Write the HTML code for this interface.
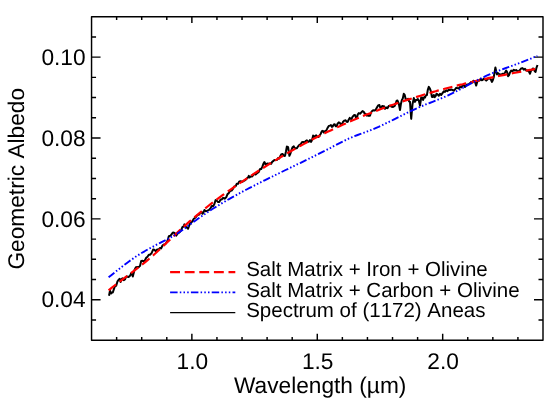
<!DOCTYPE html>
<html><head><meta charset="utf-8"><title>Spectrum</title>
<style>html,body{margin:0;padding:0;background:#fff}svg{display:block;will-change:transform;text-rendering:geometricPrecision}</style></head>
<body>
<svg width="554" height="400" viewBox="0 0 554 400">
<rect width="554" height="400" fill="#fff"/>
<g font-family="'Liberation Sans', sans-serif" fill="#000" style="font-kerning:none">
<rect x="91.55" y="16.70" width="451.45" height="323.50" fill="none" stroke="#000" stroke-width="1.45" stroke-linejoin="round"/>
<path d="M116.63 340.20v-3.20M116.63 16.70v3.20M141.71 340.20v-3.20M141.71 16.70v3.20M166.79 340.20v-3.20M166.79 16.70v3.20M191.87 340.20v-6.40M191.87 16.70v6.40M216.95 340.20v-3.20M216.95 16.70v3.20M242.03 340.20v-3.20M242.03 16.70v3.20M267.11 340.20v-3.20M267.11 16.70v3.20M292.19 340.20v-3.20M292.19 16.70v3.20M317.28 340.20v-6.40M317.28 16.70v6.40M342.36 340.20v-3.20M342.36 16.70v3.20M367.44 340.20v-3.20M367.44 16.70v3.20M392.52 340.20v-3.20M392.52 16.70v3.20M417.60 340.20v-3.20M417.60 16.70v3.20M442.68 340.20v-6.40M442.68 16.70v6.40M467.76 340.20v-3.20M467.76 16.70v3.20M492.84 340.20v-3.20M492.84 16.70v3.20M517.92 340.20v-3.20M517.92 16.70v3.20M91.55 319.98h4.50M543.00 319.98h-4.50M91.55 299.76h9.00M543.00 299.76h-9.00M91.55 279.54h4.50M543.00 279.54h-4.50M91.55 259.32h4.50M543.00 259.32h-4.50M91.55 239.11h4.50M543.00 239.11h-4.50M91.55 218.89h9.00M543.00 218.89h-9.00M91.55 198.67h4.50M543.00 198.67h-4.50M91.55 178.45h4.50M543.00 178.45h-4.50M91.55 158.23h4.50M543.00 158.23h-4.50M91.55 138.01h9.00M543.00 138.01h-9.00M91.55 117.79h4.50M543.00 117.79h-4.50M91.55 97.57h4.50M543.00 97.57h-4.50M91.55 77.36h4.50M543.00 77.36h-4.50M91.55 57.14h9.00M543.00 57.14h-9.00M91.55 36.92h4.50M543.00 36.92h-4.50" stroke="#000" stroke-width="1.45" fill="none"/>
<clipPath id="c"><rect x="91.55" y="16.70" width="451.45" height="323.50"/></clipPath>
<g clip-path="url(#c)" fill="none" stroke-linejoin="round">
<path d="M109.0 295.7 L110.0 290.7 L111.0 293.5 L111.9 292.5 L112.8 292.5 L113.8 289.4 L115.0 285.9 L116.2 285.7 L117.5 281.3 L118.8 279.5 L119.7 278.9 L120.6 282.0 L121.5 279.2 L122.5 278.3 L123.8 280.2 L125.0 279.5 L126.0 277.0 L126.9 276.4 L128.4 277.1 L130.0 275.8 L131.1 273.3 L132.2 274.6 L132.8 276.5 L134.4 270.2 L135.9 267.2 L137.5 267.1 L138.8 267.1 L140.0 265.9 L141.2 260.9 L142.5 260.7 L143.8 261.6 L145.0 260.3 L146.2 257.8 L147.5 256.7 L148.8 254.8 L150.0 254.8 L151.6 253.1 L153.1 249.6 L154.3 249.8 L155.6 251.1 L157.2 249.4 L158.8 249.3 L160.0 247.9 L161.2 248.4 L162.5 245.5 L163.8 244.4 L165.3 244.3 L166.9 241.9 L167.8 240.0 L168.8 236.2 L170.3 235.8 L171.9 233.8 L173.1 232.5 L174.7 232.9 L176.2 235.6 L177.8 233.5 L179.4 232.5 L180.9 230.6 L182.5 226.9 L183.4 226.7 L184.4 224.4 L185.7 226.9 L186.9 227.5 L188.1 228.8 L189.1 225.7 L190.0 223.8 L191.9 221.9 L193.8 218.8 L195.6 217.5 L197.5 215.0 L199.1 214.6 L200.6 212.5 L201.6 212.0 L202.5 213.8 L203.4 212.6 L204.4 210.0 L205.9 211.3 L207.5 210.6 L209.1 209.9 L210.6 208.1 L211.8 206.0 L213.1 206.3 L214.3 204.3 L215.6 200.1 L216.8 200.6 L218.1 202.1 L219.3 201.9 L220.6 199.6 L221.8 199.4 L223.1 197.8 L224.7 198.7 L226.2 197.3 L227.5 194.1 L228.8 193.1 L230.0 191.0 L231.6 190.6 L233.1 188.6 L234.3 186.5 L235.6 186.2 L236.8 183.8 L238.1 183.7 L239.3 181.4 L240.6 181.3 L242.2 181.8 L243.8 180.8 L245.3 180.1 L246.9 178.3 L247.8 177.9 L248.8 175.9 L249.7 177.4 L250.6 176.5 L252.2 176.5 L253.8 174.1 L255.6 174.5 L257.5 172.8 L258.8 172.0 L260.0 169.0 L261.2 169.0 L262.5 166.4 L263.4 163.7 L264.4 162.0 L265.6 164.5 L267.2 163.5 L268.8 163.8 L270.0 163.3 L271.2 163.7 L272.2 161.8 L273.1 161.2 L274.4 160.0 L275.6 159.9 L276.9 160.0 L278.1 158.0 L279.1 158.6 L280.0 156.7 L281.2 154.4 L282.5 153.9 L283.8 155.7 L285.0 155.9 L285.9 151.8 L286.9 146.5 L288.1 147.2 L289.4 155.8 L290.3 153.9 L291.2 150.8 L292.5 147.3 L293.8 146.4 L294.7 147.9 L295.6 148.2 L296.9 148.2 L298.1 146.3 L299.4 144.8 L300.6 144.4 L301.9 142.2 L303.1 141.9 L304.4 142.6 L305.6 141.2 L306.9 140.4 L308.1 141.9 L309.1 141.6 L310.0 140.0 L311.0 141.9 L312.1 140.0 L313.1 135.6 L314.1 136.8 L315.0 136.2 L316.2 135.4 L317.5 136.9 L318.4 137.1 L319.4 135.6 L320.6 134.0 L321.9 131.2 L322.8 130.8 L323.8 132.5 L325.0 131.2 L326.2 130.6 L327.5 128.1 L328.8 125.9 L330.0 125.6 L330.9 125.0 L331.9 126.9 L332.8 126.3 L333.8 124.4 L334.7 124.2 L335.6 126.2 L336.6 126.3 L337.5 123.8 L338.8 122.4 L340.0 123.1 L340.9 124.7 L341.9 124.4 L343.1 121.7 L344.4 120.6 L345.6 120.3 L346.9 121.9 L347.8 121.7 L348.8 119.4 L349.7 117.9 L350.6 118.8 L351.6 118.9 L352.5 116.9 L353.8 115.3 L355.0 115.0 L355.9 117.3 L356.9 118.1 L357.8 114.3 L358.8 113.1 L360.0 113.7 L361.2 112.5 L362.5 111.1 L363.8 111.9 L364.7 113.7 L365.6 113.8 L366.9 115.6 L368.1 115.0 L369.1 115.9 L370.0 115.6 L370.9 112.7 L371.9 111.2 L373.1 110.2 L374.4 110.6 L375.6 110.0 L376.9 107.5 L378.1 105.4 L379.4 105.0 L380.3 107.7 L381.2 108.1 L382.2 106.0 L383.1 106.2 L384.1 106.3 L385.0 108.8 L386.2 107.5 L387.5 108.1 L388.8 106.0 L390.0 105.6 L391.6 106.8 L393.1 106.9 L394.4 106.2 L395.6 103.8 L396.6 100.7 L397.5 100.6 L398.8 103.6 L400.0 110.0 L400.9 104.1 L401.9 100.0 L402.8 98.4 L403.8 93.8 L404.7 94.9 L405.6 98.8 L406.9 100.1 L408.1 98.8 L409.1 101.3 L410.0 101.9 L411.2 118.8 L412.5 104.4 L413.8 98.1 L415.0 101.9 L415.9 100.1 L416.9 100.0 L417.8 99.0 L418.8 100.6 L420.0 105.6 L421.2 97.5 L422.2 97.6 L423.1 100.0 L424.1 97.2 L425.0 97.5 L425.9 95.4 L426.9 95.0 L427.8 89.9 L428.8 86.9 L430.0 88.8 L430.9 91.3 L431.9 96.9 L432.8 97.0 L433.8 95.0 L434.7 97.2 L435.6 96.2 L436.6 93.7 L437.5 94.4 L438.8 95.7 L440.0 93.8 L441.2 95.0 L442.5 93.1 L443.8 91.2 L445.0 91.9 L446.2 90.4 L447.5 91.2 L448.8 89.6 L450.0 90.0 L451.2 89.4 L452.5 90.0 L453.8 90.7 L455.0 89.4 L456.2 87.8 L457.5 88.1 L458.8 88.5 L460.0 86.9 L461.2 87.4 L462.5 85.6 L463.8 85.0 L465.0 86.9 L466.2 85.0 L467.5 84.4 L468.8 84.3 L470.0 83.1 L471.2 81.9 L472.5 82.5 L473.4 80.8 L474.4 81.2 L475.3 82.6 L476.2 85.6 L477.2 82.0 L478.1 80.6 L479.4 80.6 L480.6 78.8 L481.6 80.3 L482.5 80.0 L483.8 78.6 L485.0 79.4 L486.2 80.6 L487.5 79.4 L488.8 77.9 L490.0 78.8 L490.9 79.5 L491.9 81.9 L492.8 80.3 L493.8 76.9 L495.4 67.5 L496.9 74.4 L497.8 73.0 L498.8 73.8 L500.0 74.4 L501.2 74.6 L502.5 73.8 L503.8 74.3 L505.0 72.5 L506.2 70.6 L507.2 72.2 L508.1 76.2 L509.1 75.0 L510.0 72.5 L511.2 70.6 L512.5 71.2 L513.8 69.8 L515.0 70.6 L516.2 70.1 L517.5 71.2 L518.8 71.3 L520.0 70.0 L521.2 68.4 L522.5 68.1 L523.8 69.7 L525.0 68.8 L526.2 70.4 L527.5 70.6 L528.8 71.4 L530.0 73.8 L531.0 70.8 L531.9 70.0 L532.8 68.6 L533.8 68.8 L534.7 71.2 L535.6 71.9 L536.5 67.6 L537.5 65.0" stroke="#000" stroke-width="2.0"/>
<path d="M108.6 290.4 L111.6 287.9 L114.6 285.5 L117.6 283.2 L120.6 280.9 L123.6 278.6 L126.6 276.3 L129.6 274.1 L132.6 271.8 L135.6 269.6 L138.6 267.3 L141.6 264.9 L144.6 262.6 L147.6 260.1 L150.6 257.6 L153.6 255.0 L156.6 252.3 L159.6 249.5 L162.6 246.7 L165.6 243.8 L168.6 240.9 L171.6 238.0 L174.6 235.2 L177.6 232.3 L180.6 229.5 L183.6 226.8 L186.6 224.1 L189.6 221.4 L192.6 218.8 L195.6 216.3 L198.6 213.8 L201.6 211.3 L204.6 208.9 L207.6 206.5 L210.6 204.2 L213.6 201.9 L216.6 199.6 L219.6 197.4 L222.6 195.2 L225.6 193.0 L228.6 190.9 L231.6 188.8 L234.6 186.7 L237.6 184.6 L240.6 182.6 L243.6 180.6 L246.6 178.6 L249.6 176.6 L252.6 174.7 L255.6 172.7 L258.6 170.8 L261.6 168.9 L264.6 167.0 L267.6 165.1 L270.6 163.2 L273.6 161.4 L276.6 159.6 L279.6 157.8 L282.6 156.0 L285.6 154.2 L288.6 152.5 L291.6 150.8 L294.6 149.1 L297.6 147.4 L300.6 145.7 L303.6 144.1 L306.6 142.5 L309.6 140.9 L312.6 139.3 L315.6 137.8 L318.6 136.3 L321.6 134.8 L324.6 133.3 L327.6 131.8 L330.6 130.4 L333.6 128.9 L336.6 127.5 L339.6 126.2 L342.6 124.8 L345.6 123.5 L348.6 122.1 L351.6 120.8 L354.6 119.5 L357.6 118.3 L360.6 117.0 L363.6 115.8 L366.6 114.6 L369.6 113.4 L372.6 112.2 L375.6 111.1 L378.6 109.9 L381.6 108.8 L384.6 107.7 L387.6 106.6 L390.6 105.5 L393.6 104.5 L396.6 103.4 L399.6 102.4 L402.6 101.4 L405.6 100.4 L408.6 99.4 L411.6 98.5 L414.6 97.5 L417.6 96.6 L420.6 95.7 L423.6 94.8 L426.6 93.9 L429.6 93.0 L432.6 92.1 L435.6 91.3 L438.6 90.4 L441.6 89.6 L444.6 88.8 L447.6 88.0 L450.6 87.2 L453.6 86.4 L456.6 85.7 L459.6 84.9 L462.6 84.2 L465.6 83.4 L468.6 82.7 L471.6 82.0 L474.6 81.3 L477.6 80.6 L480.6 79.9 L483.6 79.3 L486.6 78.6 L489.6 77.9 L492.6 77.3 L495.6 76.7 L498.6 76.0 L501.6 75.4 L504.6 74.8 L507.6 74.2 L510.6 73.6 L513.6 73.0 L516.6 72.5 L519.6 71.9 L522.6 71.3 L525.6 70.8 L528.6 70.2 L531.6 69.7 L534.6 69.1 L536.8 68.8" stroke="#f00" stroke-width="2.2" stroke-dasharray="9.6 4.5"/>
<path d="M108.6 277.3 L111.6 274.9 L114.6 272.5 L117.6 270.1 L120.6 267.8 L123.6 265.4 L126.6 263.2 L129.6 261.0 L132.6 258.9 L135.6 256.8 L138.6 254.9 L141.6 253.0 L144.6 251.3 L147.6 249.5 L150.6 247.9 L153.6 246.3 L156.6 244.7 L159.6 243.2 L162.6 241.6 L165.6 240.1 L168.6 238.5 L171.6 236.8 L174.6 235.1 L177.6 233.2 L180.6 231.2 L183.6 229.2 L186.6 227.0 L189.6 224.8 L192.6 222.6 L195.6 220.4 L198.6 218.3 L201.6 216.2 L204.6 214.2 L207.6 212.2 L210.6 210.2 L213.6 208.3 L216.6 206.5 L219.6 204.6 L222.6 202.8 L225.6 201.1 L228.6 199.3 L231.6 197.6 L234.6 196.0 L237.6 194.3 L240.6 192.7 L243.6 191.1 L246.6 189.5 L249.6 187.9 L252.6 186.4 L255.6 184.9 L258.6 183.3 L261.6 181.8 L264.6 180.3 L267.6 178.8 L270.6 177.4 L273.6 175.9 L276.6 174.4 L279.6 173.0 L282.6 171.5 L285.6 170.0 L288.6 168.6 L291.6 167.1 L294.6 165.7 L297.6 164.2 L300.6 162.8 L303.6 161.3 L306.6 159.8 L309.6 158.4 L312.6 156.9 L315.6 155.4 L318.6 153.9 L321.6 152.4 L324.6 150.9 L327.6 149.3 L330.6 147.8 L333.6 146.2 L336.6 144.6 L339.6 143.1 L342.6 141.6 L345.6 140.1 L348.6 138.7 L351.6 137.4 L354.6 136.2 L357.6 135.0 L360.6 133.9 L363.6 132.8 L366.6 131.7 L369.6 130.6 L372.6 129.4 L375.6 128.1 L378.6 126.8 L381.6 125.4 L384.6 124.0 L387.6 122.5 L390.6 121.1 L393.6 119.6 L396.6 118.1 L399.6 116.6 L402.6 115.1 L405.6 113.6 L408.6 112.1 L411.6 110.7 L414.6 109.3 L417.6 108.0 L420.6 106.6 L423.6 105.4 L426.6 104.1 L429.6 103.0 L432.6 101.8 L435.6 100.6 L438.6 99.4 L441.6 98.2 L444.6 96.9 L447.6 95.6 L450.6 94.1 L453.6 92.7 L456.6 91.1 L459.6 89.6 L462.6 88.0 L465.6 86.3 L468.6 84.7 L471.6 83.1 L474.6 81.6 L477.6 80.0 L480.6 78.5 L483.6 77.1 L486.6 75.7 L489.6 74.4 L492.6 73.1 L495.6 71.9 L498.6 70.7 L501.6 69.6 L504.6 68.5 L507.6 67.4 L510.6 66.3 L513.6 65.2 L516.6 64.1 L519.6 63.0 L522.6 61.8 L525.6 60.7 L528.6 59.5 L531.6 58.3 L534.6 57.0 L537.4 55.8" stroke="#00f" stroke-width="1.9" stroke-dasharray="7.4 2.1 1.5 2.1 1.5 2.1 1.5 2.1"/>
</g>
<path d="M170.1 272.1H235.3" stroke="#f00" stroke-width="2.2" stroke-dasharray="9.9 4.7" fill="none"/>
<path d="M170.1 292.4H235.3" stroke="#00f" stroke-width="1.9" stroke-dasharray="7.5 2.2 1.5 2.2 1.5 2.2 1.5 2.2" fill="none"/>
<path d="M170.1 312.6H235.3" stroke="#000" stroke-width="1.45" fill="none"/>
<g font-size="20.5">
<text x="246.2" y="276.3">Salt Matrix + Iron + Olivine</text>
<text x="246.2" y="296.5">Salt Matrix + Carbon + Olivine</text>
<text x="246.2" y="316.7">Spectrum of (1172) Aneas</text>
</g>
<g font-size="22.7">
<text x="85.6" y="64.7" text-anchor="end">0.10</text>
<text x="85.6" y="145.6" text-anchor="end">0.08</text>
<text x="85.6" y="226.5" text-anchor="end">0.06</text>
<text x="85.6" y="307.4" text-anchor="end">0.04</text>
<text x="192.3" y="368.9" text-anchor="middle">1.0</text>
<text x="317.7" y="368.9" text-anchor="middle">1.5</text>
<text x="443.1" y="368.9" text-anchor="middle">2.0</text>
<text x="320.2" y="392.8" text-anchor="middle" style="font-kerning:normal">Wavelength (µm)</text>
<text transform="translate(24.0 178.75) rotate(-90) scale(1 1)" text-anchor="middle">Geometric Albedo</text>
</g>
</g></svg>
</body></html>
